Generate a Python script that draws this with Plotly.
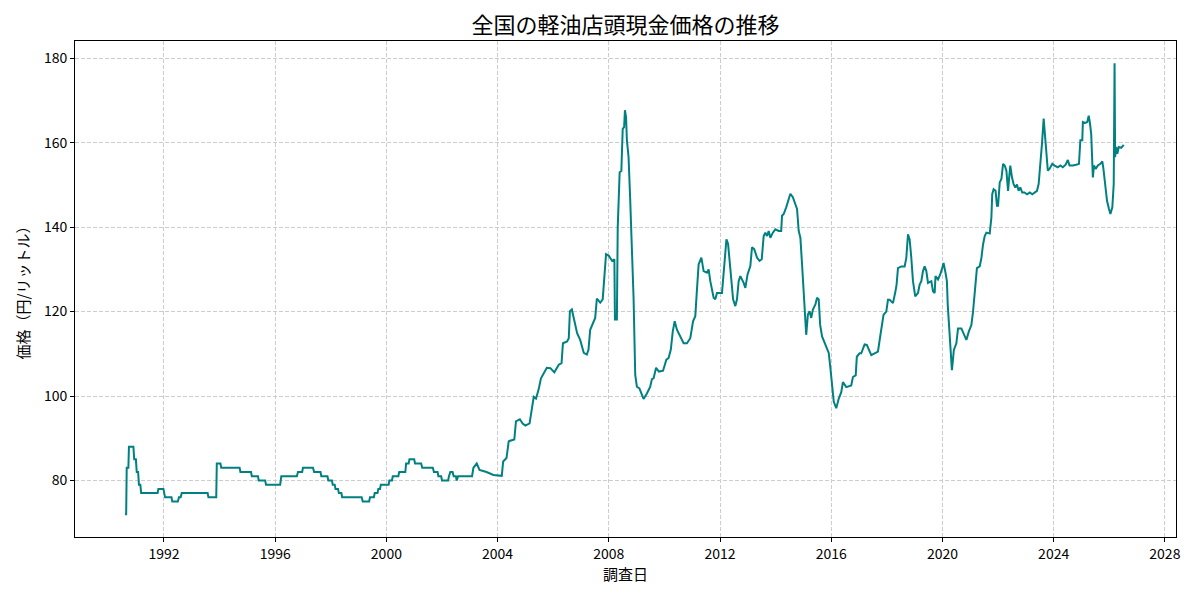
import plotly.graph_objects as go

# 調査日（小数の年）と価格（円/リットル）
years = [
    1990.60, 1990.64, 1990.66, 1990.72, 1990.74, 1990.90, 1990.93, 1990.99, 1991.02, 1991.07,
    1991.10, 1991.15, 1991.18, 1991.77, 1991.80, 1991.98, 1992.04, 1992.27, 1992.30, 1992.50,
    1992.54, 1992.60, 1992.64, 1993.57, 1993.60, 1993.88, 1993.90, 1994.03, 1994.06, 1994.72,
    1994.75, 1995.13, 1995.16, 1995.38, 1995.41, 1995.64, 1995.67, 1996.18, 1996.22, 1996.78,
    1996.82, 1996.97, 1997.00, 1997.36, 1997.40, 1997.63, 1997.66, 1997.88, 1997.91, 1998.04,
    1998.07, 1998.14, 1998.17, 1998.26, 1998.29, 1998.38, 1998.41, 1999.11, 1999.15, 1999.38,
    1999.41, 1999.55, 1999.58, 1999.68, 1999.71, 1999.77, 1999.80, 2000.08, 2000.11, 2000.20,
    2000.23, 2000.43, 2000.46, 2000.68, 2000.71, 2000.80, 2000.83, 2001.00, 2001.03, 2001.25,
    2001.29, 2001.67, 2001.71, 2001.84, 2001.87, 2001.97, 2002.00, 2002.22, 2002.25, 2002.30,
    2002.38, 2002.42, 2002.50, 2002.53, 2002.58, 2003.08, 2003.13, 2003.25, 2003.35, 2003.60,
    2003.85, 2004.10, 2004.15, 2004.20, 2004.32, 2004.40, 2004.60, 2004.66, 2004.80, 2004.90,
    2005.00, 2005.15, 2005.23, 2005.30, 2005.38, 2005.47, 2005.56, 2005.65, 2005.77, 2005.90,
    2006.04, 2006.20, 2006.30, 2006.35, 2006.50, 2006.56, 2006.60, 2006.67, 2006.80, 2006.86,
    2006.97, 2007.10, 2007.21, 2007.27, 2007.33, 2007.45, 2007.51, 2007.57, 2007.69, 2007.78,
    2007.84, 2007.90, 2008.00, 2008.12, 2008.20, 2008.22, 2008.29, 2008.32, 2008.39, 2008.45,
    2008.50, 2008.55, 2008.58, 2008.62, 2008.65, 2008.71, 2008.77, 2008.83, 2008.89, 2008.95,
    2009.01, 2009.10, 2009.25, 2009.37, 2009.49, 2009.55, 2009.61, 2009.70, 2009.80, 2009.95,
    2010.07, 2010.15, 2010.23, 2010.30, 2010.37, 2010.45, 2010.57, 2010.69, 2010.81, 2010.93,
    2011.03, 2011.11, 2011.17, 2011.23, 2011.33, 2011.41, 2011.53, 2011.59, 2011.65, 2011.77,
    2011.83, 2011.89, 2012.07, 2012.13, 2012.23, 2012.29, 2012.37, 2012.47, 2012.55, 2012.61,
    2012.67, 2012.73, 2012.85, 2012.91, 2012.99, 2013.09, 2013.15, 2013.23, 2013.33, 2013.42,
    2013.50, 2013.57, 2013.63, 2013.69, 2013.75, 2013.81, 2013.90, 2013.99, 2014.11, 2014.20,
    2014.23, 2014.29, 2014.38, 2014.43, 2014.53, 2014.62, 2014.71, 2014.77, 2014.83, 2014.89,
    2014.95, 2015.01, 2015.07, 2015.10, 2015.16, 2015.22, 2015.28, 2015.34, 2015.43, 2015.49,
    2015.55, 2015.60, 2015.67, 2015.79, 2015.91, 2015.97, 2016.03, 2016.09, 2016.18, 2016.27,
    2016.36, 2016.42, 2016.54, 2016.72, 2016.78, 2016.88, 2016.92, 2017.02, 2017.08, 2017.20,
    2017.28, 2017.44, 2017.56, 2017.68, 2017.76, 2017.82, 2017.88, 2017.98, 2018.04, 2018.10,
    2018.22, 2018.31, 2018.35, 2018.40, 2018.52, 2018.64, 2018.70, 2018.76, 2018.82, 2018.88,
    2018.94, 2019.02, 2019.12, 2019.18, 2019.24, 2019.30, 2019.36, 2019.42, 2019.48, 2019.60,
    2019.66, 2019.72, 2019.75, 2019.84, 2019.92, 2019.99, 2020.04, 2020.11, 2020.16, 2020.19,
    2020.23, 2020.29, 2020.34, 2020.37, 2020.41, 2020.50, 2020.56, 2020.68, 2020.76, 2020.86,
    2020.95, 2021.04, 2021.10, 2021.19, 2021.24, 2021.34, 2021.40, 2021.46, 2021.52, 2021.58,
    2021.70, 2021.76, 2021.79, 2021.84, 2021.91, 2021.96, 2022.00, 2022.06, 2022.12, 2022.18,
    2022.24, 2022.30, 2022.36, 2022.40, 2022.44, 2022.50, 2022.56, 2022.62, 2022.68, 2022.74,
    2022.80, 2022.87, 2022.95, 2023.04, 2023.14, 2023.23, 2023.31, 2023.40, 2023.46, 2023.52,
    2023.58, 2023.64, 2023.68, 2023.73, 2023.79, 2023.85, 2023.95, 2024.03, 2024.15, 2024.24,
    2024.33, 2024.43, 2024.51, 2024.57, 2024.69, 2024.81, 2024.91, 2024.96, 2025.03, 2025.05,
    2025.13, 2025.21, 2025.26, 2025.30, 2025.35, 2025.41, 2025.45, 2025.51, 2025.59, 2025.68,
    2025.75, 2025.79, 2025.83, 2025.87, 2025.92, 2025.99, 2026.04, 2026.11, 2026.16, 2026.19,
    2026.21, 2026.25, 2026.29, 2026.34, 2026.43, 2026.52,
]

prices = [
    72, 72, 83, 83, 88, 88, 85, 85, 82, 82,
    79, 79, 77, 77, 78, 78, 76, 76, 75, 75,
    76, 76, 77, 77, 76, 76, 84, 84, 83, 83,
    82, 82, 81, 81, 80, 80, 79, 79, 81, 81,
    82, 82, 83, 83, 82, 82, 81, 81, 80, 80,
    79, 79, 78, 78, 77, 77, 76, 76, 75, 75,
    76, 76, 77, 77, 78, 78, 79, 79, 80, 80,
    81, 81, 82, 82, 84, 84, 85, 85, 84, 84,
    83, 83, 82, 82, 81, 81, 80, 80, 81, 82,
    82, 81, 81, 80, 81, 81, 83, 84, 82.5, 82,
    81.3, 81.1, 81.1, 84.5, 85.3, 89.3, 89.7, 94, 94.5, 93.5,
    93.0, 93.5, 97.5, 99.8, 99.4, 101.4, 104.2, 105.4, 106.7, 106.6,
    105.6, 107.4, 107.8, 112.5, 112.9, 113.7, 120.1, 120.5, 116.9, 114.9,
    113.3, 110.2, 109.8, 111, 115.7, 117.7, 118.5, 123.1, 122.1, 122.9,
    128, 133.6, 133.2, 132, 132.4, 118.1, 118.1, 139.9, 153, 153.3,
    163.3, 163.7, 167.7, 166.1, 160.6, 156.6, 146.3, 136.7, 123.3, 105,
    102.2, 101.8, 99.3, 100.6, 102.2, 104, 104.2, 106.7, 105.8, 106,
    108.6, 109, 111, 115.3, 117.7, 115.7, 114.1, 112.5, 112.5, 113.7,
    117.7, 118.9, 125.2, 131.2, 132.8, 129.6, 129.2, 130, 127.2, 123.3,
    122.9, 124.4, 124.4, 129.2, 137.1, 136, 130.4, 122.9, 121.3, 122.9,
    127.2, 128.4, 126.8, 125.6, 128.8, 130.8, 135.2, 134.8, 132.8, 132,
    132.4, 137.9, 138.7, 137.9, 139.1, 137.5, 138.7, 139.5, 139.1, 139.1,
    142.7, 143.1, 144.7, 145.9, 147.9, 147.1, 145.5, 144.3, 139.1, 137.5,
    131.2, 124.8, 116.9, 114.5, 119.3, 120.1, 118.5, 120.5, 121.7, 123.3,
    122.9, 116.9, 114.1, 112.1, 110.2, 106.6, 103, 98.7, 97.1, 99.4,
    100.9, 103.3, 102.1, 102.5, 104.5, 104.9, 109.3, 110.1, 110.1, 112.2,
    112.1, 109.7, 110.1, 110.5, 114.1, 116.8, 119.2, 120, 122.8, 122.8,
    122, 124.8, 126.4, 130.3, 130.7, 130.7, 132.7, 138.3, 137.1, 132.7,
    127.2, 123.6, 124.4, 126.4, 127.2, 129.6, 130.7, 129.6, 126.8, 127.2,
    124.8, 124.4, 128.4, 127.6, 128.8, 130.3, 131.5, 129.2, 127.2, 121.6,
    116.8, 110.5, 106.1, 108.1, 110.9, 112.5, 116, 116, 114.8, 113.3,
    115.3, 116.8, 120, 125.6, 130.3, 130.7, 132.7, 135.9, 137.9, 138.7,
    138.5, 142.3, 147.8, 149, 148.6, 145.1, 145.1, 150.6, 151.4, 155,
    154.6, 153.4, 148.6, 151.8, 154.6, 151.8, 150.2, 149.4, 150.1, 148.6,
    149.4, 148.2, 148.2, 147.8, 148.2, 147.8, 148.2, 148.6, 150.2, 154.2,
    159.8, 165.7, 162.9, 158.2, 153.4, 153.8, 155, 154.6, 154.2, 154.6,
    154.2, 154.8, 155.9, 154.6, 154.6, 154.8, 155, 160.6, 160.6, 164.9,
    164.7, 164.9, 166.4, 164.9, 162.1, 151.8, 154.6, 153.8, 154.6, 155,
    155.6, 153.8, 151, 147.8, 146.2, 144.3, 143.1, 144.7, 150.2, 178.8,
    156.6, 159, 157.4, 159, 158.8, 159.5,
]

x_ticks = [1992, 1996, 2000, 2004, 2008, 2012, 2016, 2020, 2024, 2028]
y_ticks = [80, 100, 120, 140, 160, 180]

font_family = "Noto Sans CJK JP"

fig = go.Figure()
fig.add_trace(go.Scatter(
    x=years, y=prices, mode="lines",
    line=dict(color="#008080", width=2),
    showlegend=False,
))

axis_style = dict(
    showline=True, linecolor="black", linewidth=1, mirror=True,
    ticks="outside", ticklen=4, tickcolor="black",
    showgrid=True, gridcolor="#cccccc", griddash="4px,2px", gridwidth=1,
    zeroline=False, tickfont=dict(size=14, color="black"),
    automargin=False,
)

# the page body adds an 8px offset, so margins are shifted to compensate
fig.update_layout(
    width=1200, height=600,
    paper_bgcolor="white", plot_bgcolor="white",
    font=dict(family=font_family, color="black"),
    margin=dict(l=67, r=32, t=33, b=71, autoexpand=False),
    title=dict(text="全国の軽油店頭現金価格の推移", x=0.5, xref="paper", xanchor="center",
               y=0.972, yanchor="middle", font=dict(size=22)),
    xaxis=dict(axis_style, range=[1988.8, 2028.4], tickvals=x_ticks,
               ticktext=[str(t) for t in x_ticks],
               title=dict(text="調査日", font=dict(size=15), standoff=6)),
    yaxis=dict(axis_style, range=[66.6, 184.1], tickvals=y_ticks,
               title=dict(text="価格（円/リットル）", font=dict(size=15), standoff=10)),
)

fig.write_html("out.html")
